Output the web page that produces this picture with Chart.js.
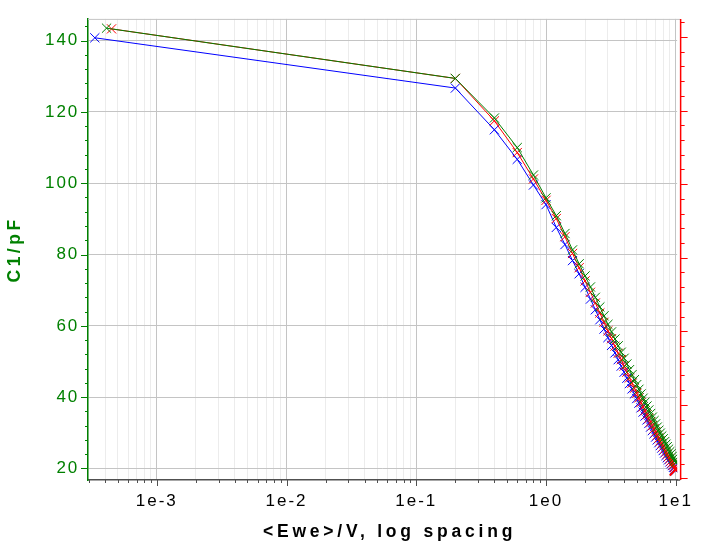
<!DOCTYPE html>
<html><head><meta charset="utf-8">
<script src="https://cdn.jsdelivr.net/npm/chart.js@4/dist/chart.umd.min.js"></script>
<style>html,body{margin:0;padding:0;background:#fff;}#wrap{width:701px;height:544px;}</style>
</head><body><div id="wrap"><canvas id="c" width="701" height="544"></canvas></div>
<script>
// ---- data ----
const eweSweep = [0.2,0.4,0.6,0.8,1.0,1.2,1.4,1.6,1.8,2.0,2.2,2.4,2.6,2.8,3.0,3.2,3.4,3.6,3.8,4.0,
  4.2,4.4,4.6,4.8,5.0,5.2,5.4,5.6,5.8,6.0,6.2,6.4,6.6,6.8,7.0,7.2,7.4,7.6,7.8,8.0,
  8.2,8.4,8.6,8.8,9.0,9.2,9.4,9.6,9.8,10.0];
const blueStartEwe = 0.000333;
const redStartEwe = 0.000448;
const greenStartEwe = 0.000410;
const blueC1 = [140.8,126.7,115.0,106.7,99.5,94.0,87.6,82.8,78.3,74.6,70.8,67.5,64.5,61.7,59.1,56.7,54.5,52.4,50.5,48.7,
  47.0,45.3,43.8,42.3,40.9,39.6,38.3,37.0,35.8,34.7,33.6,32.6,31.6,30.6,29.7,28.8,28.0,27.2,26.4,25.7,
  25.0,24.3,23.6,23.0,22.4,21.8,21.3,20.8,20.3,19.8,19.4];
const redC1 = [143.3,129.4,117.5,108.6,101.2,95.2,90.1,85.0,80.3,76.3,72.6,69.4,66.4,63.6,61.0,58.6,56.4,54.3,52.3,50.5,
  48.7,47.0,45.4,43.9,42.5,41.1,39.8,38.5,37.3,36.2,35.1,34.0,33.0,32.0,31.1,30.2,29.3,28.5,27.7,26.9,
  26.1,25.4,24.7,24.0,23.3,22.7,22.1,21.5,20.9,20.3,19.7];
const greenC1 = [143.5,129.4,118.3,110.0,102.3,95.9,90.9,85.9,81.3,77.4,74.0,70.9,68.0,65.3,62.8,60.4,58.3,56.3,54.4,52.6,
  50.9,49.3,47.7,46.3,44.9,43.5,42.2,40.9,39.7,38.6,37.5,36.4,35.4,34.4,33.4,32.5,31.6,30.7,29.9,29.1,
  28.3,27.5,26.8,26.1,25.4,24.7,24.1,23.4,22.8,22.2,21.6];
const xMajorTicks = [1e-3,1e-2,1e-1,1,10];
const xMajorLabels = ['1e-3','1e-2','1e-1','1e0','1e1'];
const yTicks = [20,40,60,80,100,120,140];
const yMinorStep = 4;
const y2Ticks = [0,1,2,3,4,5,6];
const y2MinorStep = 0.2;
const xTitle = '<Ewe>/V, log spacing';
const yTitle = 'C1/pF';

// ---- build ----
function pts(startX, ys){
  const xs=[startX].concat(eweSweep);
  return ys.map((v,i)=>({x:xs[i],y:v}));
}
const xAllTicks=[];
[1e-4].concat(xMajorTicks).forEach(d=>{for(let m=1;m<=9;m++){xAllTicks.push(+(d*m).toPrecision(6));}});
function isMajorX(v){return xMajorTicks.some(t=>Math.abs(t-v)/t<1e-6);}
function series(label,color,startX,ys,big){
  const r=ys.map((_,i)=>(big&&i===ys.length-1)?8.5:6.5);
  const bw=ys.map((_,i)=>(big&&i===ys.length-1)?2:1);
  return {label,data:pts(startX,ys),borderColor:color,backgroundColor:color,borderWidth:1,
    pointStyle:'crossRot',pointRadius:r,pointBorderWidth:bw,pointBorderColor:color,pointHoverRadius:r,
    showLine:true,fill:false,tension:0};
}
function patch(scale,spacingLabels,spacingTitle,dx){
  if(scale._pt) return; scale._pt=true;
  const dl=scale.drawLabels, dt=scale.drawTitle;
  scale.drawLabels=function(a){const c=this.ctx;c.save();c.letterSpacing=spacingLabels;dl.call(this,a);c.restore();};
  scale.drawTitle=function(){const c=this.ctx;c.save();c.letterSpacing=spacingTitle;c.translate(dx,0);dt.call(this);c.restore();};
}
const decor={id:'decor',
  beforeDraw(chart){
    patch(chart.scales.x,'2px','3.8px',7);
    patch(chart.scales.y,'2px','3.5px',0);
  },
  beforeDatasetsDraw(chart){
    const c=chart.ctx,a=chart.chartArea;
    c.save();c.strokeStyle='#c4c4c4';c.lineWidth=1;
    c.beginPath();c.moveTo(a.left,a.top+0.5);c.lineTo(a.right+3,a.top+0.5);c.stroke();
    c.restore();
  },
  afterDraw(chart){
    const c=chart.ctx,a=chart.chartArea,x=chart.scales.x,y=chart.scales.y,y2=chart.scales.y2;
    c.save();
    c.strokeStyle='#505050';c.lineWidth=1.5;
    c.beginPath();c.moveTo(a.right,a.bottom);c.lineTo(a.right+3,a.bottom);c.stroke();
    c.lineWidth=1;
    x.ticks.forEach(t=>{const px=Math.round(x.getPixelForValue(t.value))+0.5;const L=isMajorX(t.value)?6:3;
      c.beginPath();c.moveTo(px,a.bottom);c.lineTo(px,a.bottom+L);c.stroke();});
    c.strokeStyle='#008000';
    for(let v=Math.ceil(y.min/yMinorStep)*yMinorStep; v<=y.max; v+=yMinorStep){
      const py=Math.round(y.getPixelForValue(v))+0.5;const L=yTicks.includes(v)?7:3;
      c.beginPath();c.moveTo(a.left-L,py);c.lineTo(a.left,py);c.stroke();}
    const rx=a.right+3.5;
    c.strokeStyle='#ff0000';c.lineWidth=1.5;
    c.beginPath();c.moveTo(rx,a.top);c.lineTo(rx,a.bottom);c.stroke();
    c.lineWidth=1;
    const n=Math.round((y2.max-y2.min)/y2MinorStep)+2;
    for(let k=0;k<n;k++){
      const v=+(Math.ceil(y2.min/y2MinorStep)*y2MinorStep+k*y2MinorStep).toFixed(6);
      if(v>y2.max) break;
      const py=Math.round(y2.getPixelForValue(v))+0.5;const L=y2Ticks.some(t=>Math.abs(t-v)<1e-6)?7:4;
      c.beginPath();c.moveTo(rx,py);c.lineTo(rx+L,py);c.stroke();}
    c.restore();
  }
};
new Chart(document.getElementById('c'),{
  type:'line',
  data:{datasets:[
    series('green','#008000',greenStartEwe,greenC1,false),
    series('red','#ff0000',redStartEwe,redC1,true),
    series('blue','#0000ff',blueStartEwe,blueC1,false)
  ]},
  options:{
    responsive:false,animation:false,devicePixelRatio:1,
    layout:{padding:{top:14,left:0,right:0,bottom:0}},
    plugins:{legend:{display:false},tooltip:{enabled:false}},
    events:[],
    scales:{
      x:{type:'logarithmic',position:'bottom',min:0.000295,max:10.245,
        afterBuildTicks:s=>{s.ticks=xAllTicks.filter(v=>v>=s.min&&v<=s.max).map(v=>({value:v,major:isMajorX(v)}));},
        afterFit:s=>{s.height=64;},
        ticks:{autoSkip:false,maxRotation:0,minRotation:0,padding:11,color:'#000',
          font:{family:'Liberation Sans',size:17},
          callback:(v)=>{const i=xMajorTicks.findIndex(t=>Math.abs(t-v)/t<1e-6);return i>=0?xMajorLabels[i]:'';}},
        grid:{drawTicks:false,lineWidth:1,color:c=>(c.tick&&isMajorX(c.tick.value))?'#c4c4c4':'#ececec'},
        border:{display:true,color:'#505050',width:1.5},
        title:{display:true,text:xTitle,color:'#000',font:{family:'Liberation Sans',size:17.5,weight:'bold'},padding:{top:0,bottom:1}}
      },
      y:{type:'linear',position:'left',min:16.75,max:146.1,
        afterBuildTicks:s=>{s.ticks=yTicks.map(v=>({value:v}));},
        afterFit:s=>{s.width=88;},
        ticks:{padding:8.7,color:'#008000',font:{family:'Liberation Sans',size:17}},
        grid:{drawTicks:false,color:'#c4c4c4',lineWidth:1},
        border:{display:true,color:'#008000',width:1.5},
        title:{display:true,text:yTitle,color:'#008000',font:{family:'Liberation Sans',size:17.5,weight:'bold'},padding:{top:4.5,bottom:0}}
      },
      y2:{type:'linear',position:'right',min:-0.0215,max:6.246,
        afterBuildTicks:s=>{s.ticks=y2Ticks.map(v=>({value:v}));},
        afterFit:s=>{s.width=23.5;},
        ticks:{display:false},grid:{display:false,drawOnChartArea:false},border:{display:false}
      }
    }
  },
  plugins:[decor]
});
</script></body></html>
